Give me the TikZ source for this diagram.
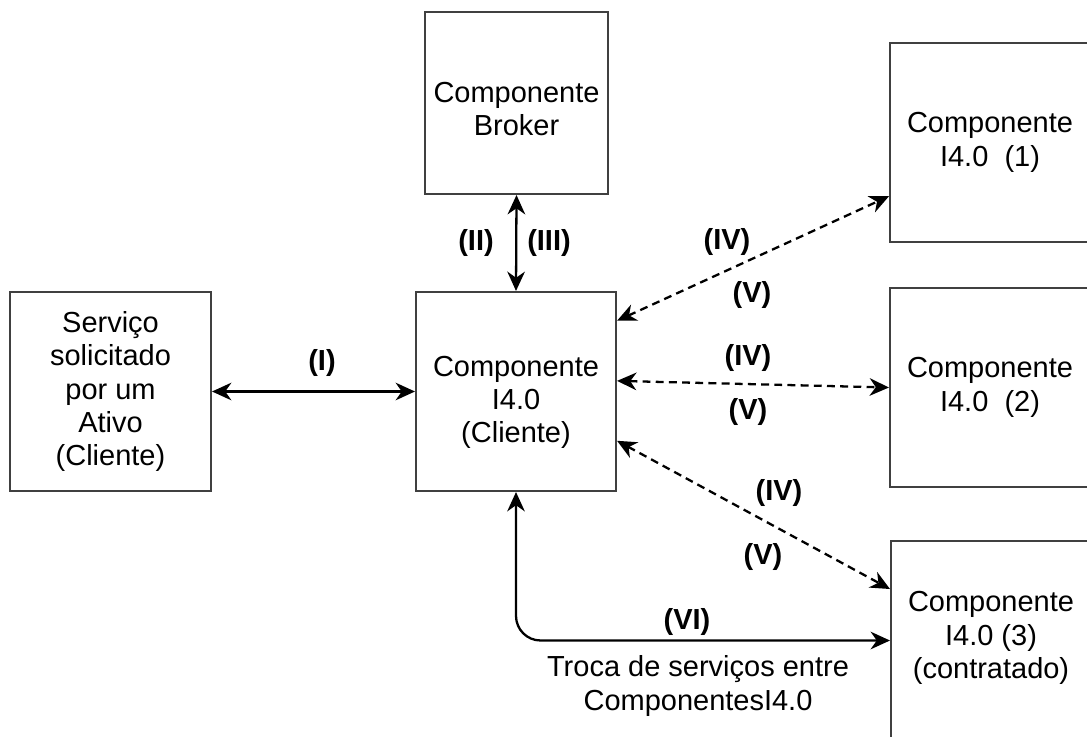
\documentclass[tikz,border=0pt]{standalone}
\usepackage{fontspec}
\setmainfont{Liberation Sans}
\usetikzlibrary{arrows.meta}

\newcommand{\boxfont}{\fontsize{16.5}{19}\selectfont}

\begin{document}
\begin{tikzpicture}[x = 0.02cm, y = -0.02cm,
  box/.style = {draw = black!75, line width = 1.2pt, fill = white,
                align = center, inner sep = 0pt, font = \boxfont},
  tag/.style = {font = \boxfont\bfseries},
  link/.style = {line width = 1.3pt,
                 {Stealth[length = 11pt, width = 10pt, inset = 3.5pt]}-{Stealth[length = 11pt, width = 10pt, inset = 3.5pt]}},
  dlink/.style = {link, dash pattern = on 4.5pt off 3pt}]
\useasboundingbox (0, 0) rectangle (1087, 736);
\clip (0, 0) rectangle (1087, 736);

% boxes
\node[box, minimum width = 4.02cm, minimum height = 3.98cm] (serv) at (110.5, 391.5)
     {Serviço\\solicitado\\por um\\Ativo\\(Cliente)};
\node[box, minimum width = 4cm, minimum height = 3.98cm] (cli) at (516, 391.5)
     {Componente\\I4.0\\(Cliente)\\[-28pt]};
\node[box, minimum width = 3.66cm, minimum height = 3.64cm] (broker) at (516.5, 103)
     {Componente\\Broker\\[-26pt]};
\node[box, minimum width = 4cm, minimum height = 3.98cm] (comp1) at (990, 142.5)
     {Componente\\I4.0~~(1)};
\node[box, minimum width = 4cm, minimum height = 3.98cm] (comp2) at (990, 387.5)
     {Componente\\I4.0~~(2)};
\node[box, minimum width = 4cm, minimum height = 3.98cm] (comp3) at (991, 640.5)
     {Componente\\I4.0 (3)\\(contratado)\\[-13pt]};

% connectors
\draw[link] (serv.east) -- (cli.west);
\draw[link] (broker.south) -- (cli.north);
\draw[dlink] (cli.35) -- (comp1.-152);
\draw[dlink] (cli.6.5) -- (comp2.west);
\draw[dlink] (cli.-26) -- (comp3.153);
\draw[link, rounded corners = 14pt] (cli.south) |- (comp3.west);

% labels
\node[tag] (l1) at (322, 363) {(I)};
\node[tag] (l2) at (476, 243) {(II)};
\node[tag] (l3) at (549, 243) {(III)};
\node[tag] (l4a) at (727, 242) {(IV)};
\node[tag] (l5a) at (752, 295) {(V)};
\node[tag] (l4b) at (748, 358) {(IV)};
\node[tag] (l5b) at (748, 412) {(V)};
\node[tag] (l4c) at (779, 493) {(IV)};
\node[tag] (l5c) at (763, 557) {(V)};
\node[tag] (l6) at (687, 622) {(VI)};
\node[font = \boxfont, align = center] (troca) at (698, 686)
     {Troca de serviços entre\\ComponentesI4.0};
\end{tikzpicture}
\end{document}
